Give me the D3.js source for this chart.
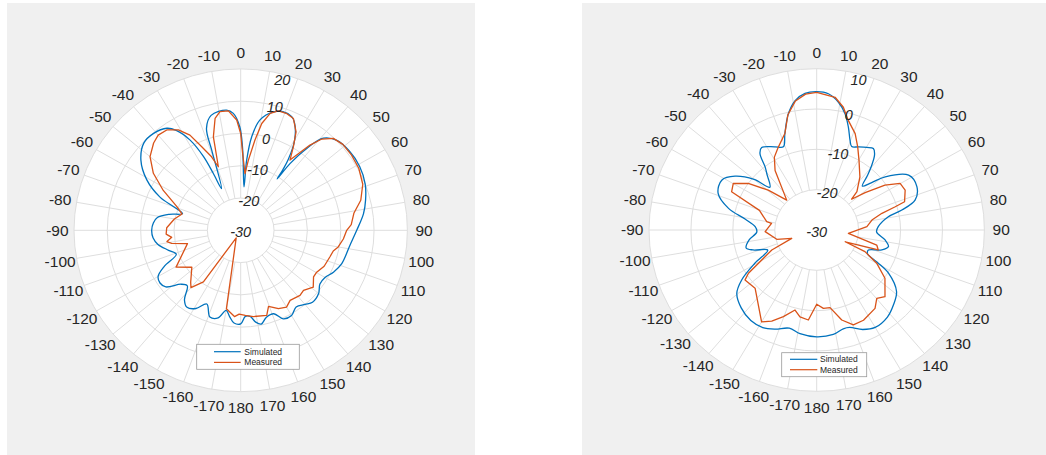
<!DOCTYPE html>
<html><head><meta charset="utf-8">
<script src="https://cdn.jsdelivr.net/npm/d3@7"></script>
<style>body{margin:0;background:#fff;} svg{display:block;}</style>
</head><body>
<svg id="c" width="1046" height="455"></svg>
<script>
// ---------- data ----------
const thetaTicks = [-170,-160,-150,-140,-130,-120,-110,-100,-90,-80,-70,-60,-50,-40,-30,-20,-10,0,10,20,30,40,50,60,70,80,90,100,110,120,130,140,150,160,170,180];
const leftRTicks = [-30,-20,-10,0,10,20];
const rightRTicks = [-30,-20,-10,0,10];
const seriesNames = ["Simulated","Measured"];
const seriesColors = ["#0072BD","#D95319"];

// [angle (deg, clockwise from top), gain (dB)]
const leftSimulated = [[-180,-1.0],[-176,-1.2],[-173,-3.0],[-170,-4.8],[-166,-2.0],[-161,-1.6],[-156,-5.0],[-151,-2.3],[-146,-1.2],[-142,-2.6],[-137,-6.5],[-133,-5.5],[-128,-1.5],[-124,-0.8],[-120,-1.4],[-116,-4.5],[-111,-9.3],[-106,-7.5],[-100,-4.8],[-95,-3.6],[-90,-3.3],[-85,-3.7],[-81,-4.7],[-77,-8.0],[-73.5,-11.8],[-70,-8.5],[-67,-3.7],[-61,2.2],[-54,7.0],[-47,9.7],[-41,9.8],[-35,8.6],[-32,6.5],[-28.5,1.8],[-26,-4.6],[-25,-10.6],[-24,-15.9],[-19.3,-3.7],[-18,3.2],[-14,6.7],[-6.5,7.5],[-3.5,6.3],[-0.5,2.1],[1.4,-5.2],[4.2,-16.5],[4.7,-8.2],[6.5,-0.8],[9.6,4.7],[15,8.0],[19,8.9],[23.5,8.4],[26,6.9],[30,2.4],[33,-3.7],[34,-7.4],[34.5,-10.7],[35.6,-4.6],[38,2.2],[41,7.8],[46,10.1],[53,10.8],[61,10.8],[69,10.0],[76,8.6],[82,7.2],[90,4.8],[98,3.1],[109,2.0],[115,0.7],[120,-0.8],[125,-1.0],[130,0.5],[136,1.0],[140,0.0],[145,-1.0],[150,0.5],[155,0.3],[159,-2.3],[164,-2.0],[168,-0.3],[171,-1.2],[174,-3.2],[177,-3.3]];
const leftMeasured = [[-179,-4.0],[-176,-3.2],[-170,-5.3],[-150,-27.3],[-145,-10.5],[-140,-6.8],[-137,-8.0],[-128,-11.4],[-120.5,-7.5],[-104.5,-13.5],[-101,-8.9],[-99,-7.6],[-96,-9.2],[-93,-7.6],[-88,-7.8],[-80,-9.8],[-74,-11.7],[-69,-9.5],[-62,-3.7],[-56,1.6],[-50,5.5],[-44,7.6],[-40,8.5],[-35.5,8.2],[-31,6.3],[-27.3,3.2],[-24.3,-1.6],[-21,-5.6],[-18.8,-9.2],[-15.8,0.1],[-12.5,5.5],[-9.6,7.3],[-5.7,7.2],[-2,4.2],[0,0.0],[1.4,-6.2],[4.2,-12.4],[6,-8.2],[8.7,-1.7],[10.8,3.7],[13.7,7.3],[17,8.7],[21,8.7],[24.5,8.1],[28.6,4.7],[31.4,0.3],[34.2,-3.7],[38.2,3.6],[40.7,7.3],[44.3,9.8],[49,10.6],[55,10.6],[61.5,10.3],[68.7,9.3],[75.5,7.2],[81,4.4],[87,3.2],[90,1.8],[95,0.9],[100,-0.3],[103,-1.5],[107,-2.0],[114,-2.6],[120,-3.8],[123.5,-3.8],[129,-2.0],[134.7,-3.5],[138.6,-3.1],[145.7,-3.7],[150,-2.5],[155,-3.2],[160.5,-5.0],[163.5,-2.5],[172,-3.0],[177,-3.6]];
const rightSimulated = [[-180,-3.5],[-171.2,-4.0],[-165,-4.8],[-158,-3.5],[-152,-2.6],[-145,-2.6],[-137,-3.6],[-129.5,-5.3],[-124.6,-8.3],[-119.2,-13.1],[-113.2,-17.3],[-108,-14.0],[-104.8,-12.6],[-98.6,-13.7],[-92,-15.7],[-86.8,-15.3],[-81,-12.7],[-75.7,-8.3],[-68.9,-4.8],[-61.4,-4.2],[-55.6,-6.4],[-50,-10.5],[-46.5,-14.6],[-41,-12.0],[-38.2,-10.1],[-35.5,-6.7],[-32.7,-5.7],[-25.8,-7.1],[-21.1,-7.9],[-17.6,-4.9],[-13.2,-0.4],[-9.1,2.5],[-4.7,4.0],[0,4.3],[4.7,3.9],[9.3,2.1],[13.2,-0.4],[16.5,-3.4],[19.7,-6.4],[22,-7.7],[25.8,-7.1],[30.3,-6.3],[33.8,-5.7],[36.5,-6.8],[39.5,-9.5],[42,-12.0],[45,-14.6],[48,-12.5],[51.1,-9.0],[58.2,-4.2],[65.8,-3.8],[72.5,-5.4],[76.3,-9.1],[79.1,-12.6],[86.8,-15.3],[92,-15.7],[98.6,-13.5],[103.5,-12.4],[107.6,-13.7],[112,-16.7],[116,-16.5],[119,-13.5],[122,-9.8],[128.7,-5.6],[135.5,-3.9],[142,-2.6],[150,-2.1],[156,-3.0],[162,-4.6],[165.5,-4.7],[171.3,-3.8]];
const rightMeasured = [[-180,-11.6],[-174.9,-7.6],[-169.5,-8.1],[-165.4,-9.5],[-159.7,-7.1],[-154.6,-5.0],[-150,-3.7],[-134.5,-9.4],[-125.9,-8.9],[-123.4,-10.5],[-114.8,-18.2],[-109.1,-23.7],[-103.6,-20.2],[-91.9,-17.7],[-81.2,-19.1],[-80.2,-17.9],[-70.4,-15.5],[-65,-7.6],[-59.9,-7.0],[-54.7,-10.0],[-49.5,-14.8],[-44,-19.7],[-33.9,-12.2],[-29.2,-9.3],[-24,-7.5],[-17.6,-4.9],[-13.5,-0.6],[-9,2.4],[-4.5,3.8],[0,4.1],[7.6,3.2],[11.8,1.1],[15.5,-1.8],[21,-4.4],[25.4,-7.2],[30.3,-10.0],[38.1,-13.3],[45.3,-16.5],[47.5,-18.7],[51.3,-15.2],[55.7,-10.3],[59.9,-7.0],[64.9,-6.7],[71.5,-7.9],[72.9,-10.4],[75.1,-13.9],[79.4,-16.6],[86,-18.0],[96.2,-22.4],[104.6,-15.2],[108.6,-14.5],[113.2,-22.6],[115,-17.3],[119.9,-13.5],[126.3,-9.8],[135.4,-6.8],[139.8,-7.8],[144.4,-6.1],[153.5,-5.0],[159.6,-4.9],[165,-6.9],[170.6,-10.5],[175.3,-10.5]];

// ---------- drawing ----------
const svg = d3.select("#c");
const FONT = "'Liberation Sans', Arial, Helvetica, sans-serif";
const textColor = "#262626";
const gridColor = "#dedede";

function panel(x0, x1) {
  svg.append("rect").attr("x", x0).attr("y", 3).attr("width", x1 - x0).attr("height", 452).attr("fill", "#f0f0f0");
}
panel(7, 475);
panel(582, 1046);

function drawPolar(cfg) {
  const rMin = cfg.rTicks[0], rMax = cfg.rTicks[cfg.rTicks.length - 1];
  const r = d3.scaleLinear().domain([rMin, rMax]).range([0, cfg.R]);
  const g = svg.append("g").attr("transform", `translate(${cfg.cx},${cfg.cy}) scale(1,${cfg.sy})`);
  const rad = d => d * Math.PI / 180;

  g.append("circle").attr("r", cfg.R).attr("fill", "#fff");
  // spokes
  g.selectAll("line.spoke").data(thetaTicks).join("line")
    .attr("x1", t => r(cfg.rTicks[1]) * Math.sin(rad(t)))
    .attr("y1", t => -r(cfg.rTicks[1]) * Math.cos(rad(t)))
    .attr("x2", t => cfg.R * Math.sin(rad(t)))
    .attr("y2", t => -cfg.R * Math.cos(rad(t)))
    .attr("stroke", gridColor).attr("stroke-width", 1).attr("vector-effect", "non-scaling-stroke");
  // rings
  g.selectAll("circle.ring").data(cfg.rTicks.slice(1)).join("circle")
    .attr("r", v => r(v)).attr("fill", "none")
    .attr("stroke", gridColor).attr("stroke-width", 1).attr("vector-effect", "non-scaling-stroke");

  // series
  const series = [cfg.sim, cfg.meas];
  const curves = [d3.curveCatmullRomClosed.alpha(0.5), d3.curveLinearClosed];
  series.forEach((data, i) => {
    const line = d3.lineRadial().angle(d => rad(d[0])).radius(d => r(d[1])).curve(curves[i]);
    g.append("path").attr("d", line(data)).attr("fill", "none")
      .attr("stroke", seriesColors[i]).attr("stroke-width", 1.3)
      .attr("stroke-linejoin", "round").attr("vector-effect", "non-scaling-stroke");
  });

  // r tick labels
  const rPos = (v, i) => i === 0 ? 0 : (i === cfg.rTicks.length - 1 ? r(v) - 6 : r(v) - 2);
  g.selectAll("text.rt").data(cfg.rTicks).join("text")
    .attr("x", (v, i) => rPos(v, i) * Math.sin(rad(15)))
    .attr("y", (v, i) => -rPos(v, i) * Math.cos(rad(15)) + (i === 0 ? 2 : 0))
    .attr("text-anchor", "middle").attr("dominant-baseline", "central")
    .attr("font-family", FONT).attr("font-style", "italic").attr("font-size", 14.5)
    .attr("fill", textColor).text(v => v);

  // theta labels
  g.selectAll("text.tt").data(thetaTicks).join("text")
    .attr("x", t => cfg.R * 1.1 * Math.sin(rad(t)))
    .attr("y", t => -cfg.R * 1.1 * Math.cos(rad(t)))
    .attr("text-anchor", "middle").attr("dominant-baseline", "central")
    .attr("font-family", FONT).attr("font-size", 15.5)
    .attr("fill", textColor).text(t => t);

  // legend (unscaled)
  const L = cfg.legend;
  const lg = svg.append("g");
  lg.append("rect").attr("x", L.x).attr("y", L.y).attr("width", L.w).attr("height", L.h)
    .attr("fill", "#fff").attr("stroke", "#9a9a9a").attr("stroke-width", 0.8);
  seriesNames.forEach((name, i) => {
    const yy = L.rows[i];
    lg.append("line").attr("x1", L.lx1).attr("x2", L.lx2).attr("y1", yy).attr("y2", yy)
      .attr("stroke", seriesColors[i]).attr("stroke-width", 1.2);
    lg.append("text").attr("x", L.tx).attr("y", yy).attr("dominant-baseline", "central")
      .attr("font-family", FONT).attr("font-size", 8.5).attr("fill", textColor).text(name);
  });
}

drawPolar({cx: 240.7, cy: 230.3, R: 166.7, sy: 0.968, rTicks: leftRTicks, sim: leftSimulated, meas: leftMeasured,
  legend: {x: 196.7, y: 344.3, w: 102.6, h: 25, lx1: 214, lx2: 240.7, tx: 244.3, rows: [351.7, 362.4]}});
drawPolar({cx: 816.7, cy: 230, R: 167.7, sy: 0.962, rTicks: rightRTicks, sim: rightSimulated, meas: rightMeasured,
  legend: {x: 781.7, y: 352.7, w: 85, h: 24, lx1: 790, lx2: 817.3, tx: 820, rows: [359.3, 369.7]}});
</script>
</body></html>
